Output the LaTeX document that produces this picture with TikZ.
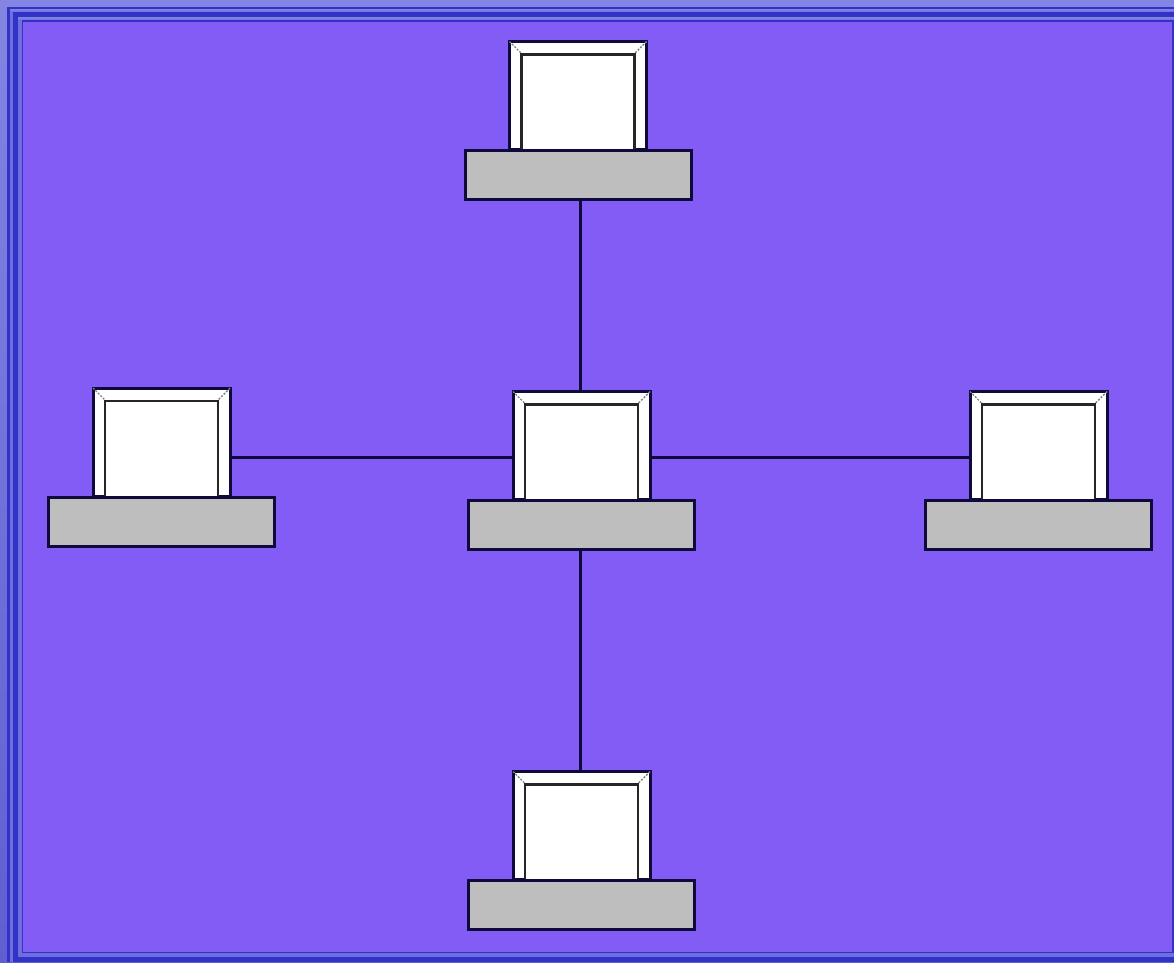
\documentclass[tikz,border=0pt]{standalone}
\usetikzlibrary{calc}
\definecolor{field}{HTML}{825CF4}
\definecolor{edgeDark}{HTML}{3232C8}
\definecolor{edgeLightA}{HTML}{8484E2}
\definecolor{edgeLightB}{HTML}{5F5FD2}
\definecolor{edgeMid}{HTML}{6E6EDC}
\definecolor{ink}{HTML}{0E0A3C}
\definecolor{baseGrey}{HTML}{BEBEBE}
\tikzset{
  x=1pt,y=-1pt,
  band/.style={fill=#1,draw=none},
  boxnode/.style={rectangle,inner sep=0pt,outer sep=0pt,line width=3pt,draw=ink},
  monitor/.style={boxnode,fill=white,minimum width=137pt,minimum height=108pt,anchor=north},
  screen/.style={boxnode,fill=white,draw=black!85,line width=2.8pt,minimum width=113pt,minimum height=96pt,anchor=north},
  basebox/.style={boxnode,fill=baseGrey,minimum width=226pt,minimum height=49pt,anchor=north},
  wire/.style={draw=ink,line width=3pt},
  bevel/.style={draw=black!50,line width=1.4pt,dash pattern=on 2pt off 1.5pt}
}
\newcommand{\computer}[3]{%
  \node[monitor] (#1mon) at (#2,#3) {};
  \draw[bevel] (#1mon.north west) -- ++(13,13) coordinate (#1a);
  \draw[bevel] (#1mon.north east) -- ++(-13,13) coordinate (#1b);
  \node[screen] (#1scr) at (#2,#3+13) {};
  \node[basebox] (#1base) at (#2,#3+109) {};
}
\begin{document}
\begin{tikzpicture}
\useasboundingbox (0,0) rectangle (1174,962);
% frame bands
\shade[top color=edgeLightA,bottom color=edgeLightB] (0,0) rectangle (1174,962);
\path[band=edgeDark] (7,7) rectangle (1174,962);
\path[band=edgeMid] (10,9) rectangle (1174,962);
\shade[top color=edgeLightA,bottom color=edgeMid] (10,9) rectangle (1174,12);
\path[band=edgeDark] (13,12) rectangle (1174,962);
\path[band=edgeMid] (18,17) rectangle (1174,957);
\shade[top color=edgeLightA,bottom color=edgeMid] (18,17) rectangle (1174,20);
\path[band=edgeDark] (22,20) rectangle (1174,953);
\path[band=field] (23,22) rectangle (1172,952);
% computers
\computer{top}{578}{41.5}
\computer{mid}{581.5}{391.5}
\computer{lft}{161.5}{388}
\computer{rgt}{1038.5}{391.5}
\computer{bot}{581.5}{771.5}
% connectors
\coordinate (vline) at (580.5,0);
\coordinate (hline) at (0,457);
\draw[wire] (topbase.south -| vline) -- (midmon.north -| vline);
\draw[wire] (midbase.south -| vline) -- (botmon.north -| vline);
\draw[wire] (lftmon.east |- hline) -- (midmon.west |- hline);
\draw[wire] (midmon.east |- hline) -- (rgtmon.west |- hline);
\end{tikzpicture}
\end{document}
